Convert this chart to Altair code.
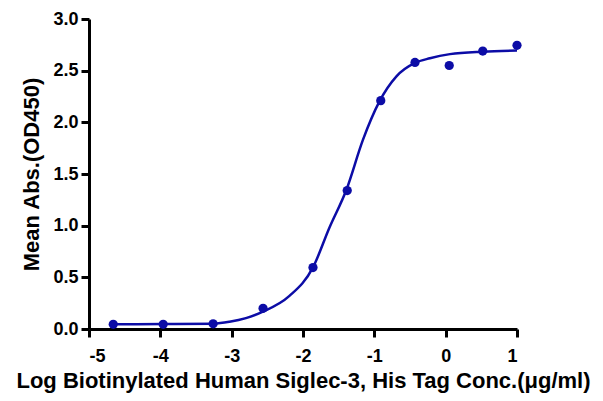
import altair as alt
import pandas as pd

# measured points (log concentration, mean absorbance)
x_log = [-4.66, -3.96, -3.26, -2.56, -1.86, -1.38, -0.91, -0.43, 0.05, 0.52, 1.0]
y_abs = [0.045, 0.045, 0.05, 0.20, 0.595, 1.34, 2.21, 2.58, 2.55, 2.69, 2.745]

# fitted curve
curve_x = [-4.66, -3.96, -3.25, -3.03, -2.80, -2.57, -2.19, -1.86, -1.63, -1.39,
           -1.16, -0.93, -0.69, -0.43, -0.22, 0.06, 0.52, 1.0]
curve_y = [0.046, 0.048, 0.052, 0.07, 0.105, 0.165, 0.32, 0.596, 0.98, 1.35,
           1.83, 2.20, 2.445, 2.575, 2.62, 2.66, 2.684, 2.694]

x_ticks = [-5, -4, -3, -2, -1, 0, 1]
y_ticks = [0.0, 0.5, 1.0, 1.5, 2.0, 2.5, 3.0]

pts = pd.DataFrame({"x": x_log, "y": y_abs})
crv = pd.DataFrame({"x": curve_x, "y": curve_y})

BLUE = "#0c0ca6"
FONT = "Liberation Sans"

xscale = alt.Scale(domain=[-5, 1], nice=False, zero=False)
yscale = alt.Scale(domain=[0, 3], nice=False)

axis_style = dict(grid=False, domain=True, domainColor="#000000", domainWidth=3,
                  tickColor="#000000", tickWidth=3, tickSize=8, labelFont=FONT, labelFontSize=18,
                  labelFontWeight="bold", labelColor="black", titleFont=FONT,
                  titleFontSize=22, titleFontWeight="bold", titleColor="black")

xaxis = alt.Axis(values=x_ticks, labelExpr="toString(datum.value)",
                 title="Log Biotinylated Human Siglec-3, His Tag Conc.(μg/ml)",
                 labelPadding=10, titlePadding=5, **axis_style)
yaxis = alt.Axis(values=y_ticks, format=".1f", title="Mean Abs.(OD450)",
                 labelPadding=3, titlePadding=9, **axis_style)

line = alt.Chart(crv).mark_line(color=BLUE, strokeWidth=2.5, interpolate="monotone").encode(
    x=alt.X("x:Q", scale=xscale, axis=xaxis),
    y=alt.Y("y:Q", scale=yscale, axis=yaxis),
)
points = alt.Chart(pts).mark_point(filled=True, color=BLUE, size=85, opacity=1).encode(
    x=alt.X("x:Q", scale=xscale, axis=xaxis),
    y=alt.Y("y:Q", scale=yscale, axis=yaxis),
)

chart = (line + points).properties(
    width=428, height=310,
    autosize=alt.AutoSizeParams(type="none"),
    padding={"left": 81, "top": 11, "right": 78, "bottom": 64},
).configure(background="white").configure_view(stroke=None)

chart.save("out.html", embed_options={"renderer": "svg", "actions": False})
